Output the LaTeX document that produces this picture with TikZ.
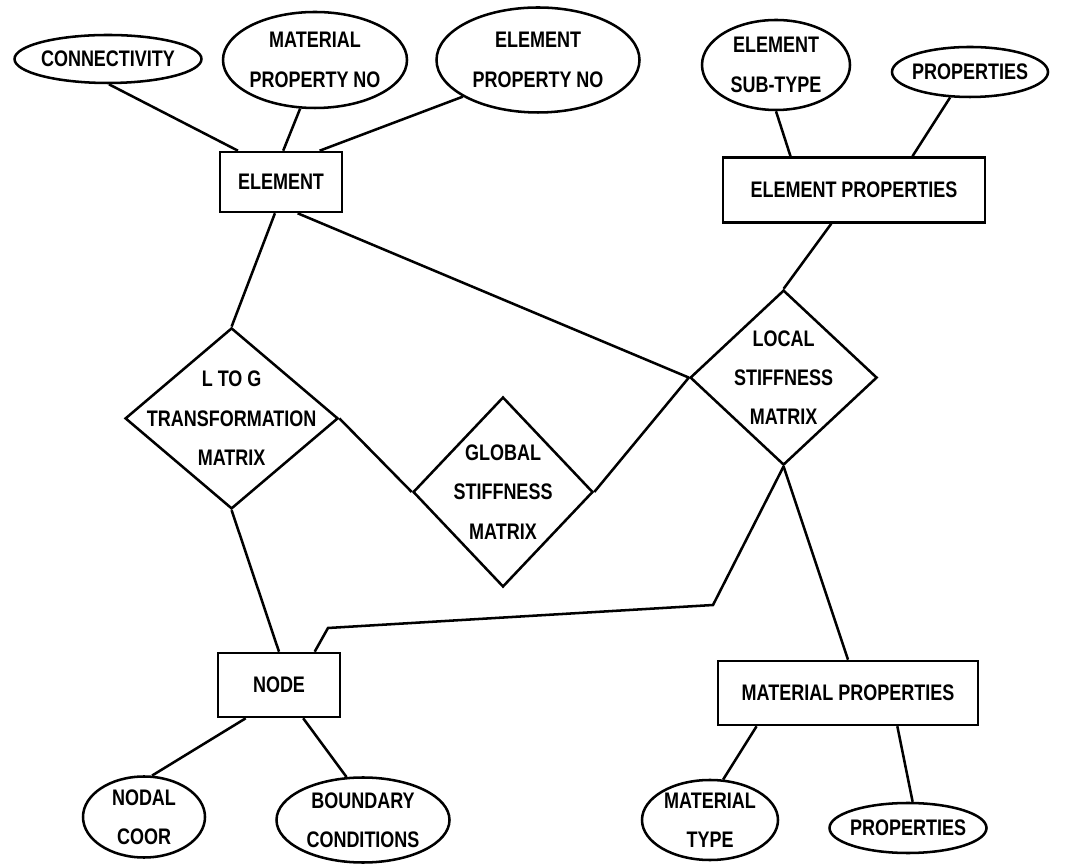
\documentclass[tikz,border=0pt]{standalone}
\usepackage{fontspec}
\setmainfont{Liberation Sans}[FakeStretch=0.8]
\usetikzlibrary{shapes.geometric}

\begin{document}
\begin{tikzpicture}[
	line width=1.8pt,
	every node/.style={font=\fontsize{16}{28}\selectfont\bfseries, align=center},
	entity/.style={draw, rectangle, inner sep=0pt},
	attrib/.style={draw, ellipse, inner sep=0pt},
	relation/.style={draw, diamond, inner sep=0pt},
	txt/.style={draw=none}
]
	\useasboundingbox (0,0) rectangle (26.675,21.65);

	% attributes at the top
	\node [attrib, minimum width=4.675cm, minimum height=1.2cm, label={[txt]center:CONNECTIVITY}] (conn) at (2.7,20.175) {};
	\node [attrib, minimum width=4.6cm, minimum height=2.4cm, label={[txt]center:MATERIAL\\PROPERTY NO}] (matno) at (7.875,20.15) {};
	\node [attrib, minimum width=5.075cm, minimum height=2.625cm, label={[txt]center:ELEMENT\\PROPERTY NO}] (elno) at (13.45,20.15) {};
	\node [attrib, minimum width=3.7cm, minimum height=2.25cm, label={[txt]center:ELEMENT\\SUB-TYPE}] (subtype) at (19.4,20.025) {};
	\node [attrib, minimum width=3.9cm, minimum height=1.25cm, label={[txt]center:PROPERTIES}] (propa) at (24.25,19.85) {};

	% entities
	\node [entity, minimum width=3.05cm, minimum height=1.5cm] (element) at (7.025,17.1) {ELEMENT};
	\node [entity, minimum width=6.55cm, minimum height=1.625cm] (elprop) at (21.35,16.9) {ELEMENT PROPERTIES};
	\node [entity, minimum width=3.05cm, minimum height=1.6cm] (nodebox) at (6.975,4.525) {NODE};
	\node [entity, minimum width=6.5cm, minimum height=1.6cm] (matprop) at (21.2,4.325) {MATERIAL PROPERTIES};

	% relations
	\node [relation, minimum width=5.325cm, minimum height=4.525cm, label={[txt]center:L TO G\\TRANSFORMATION\\MATRIX}] (ltog) at (5.79,11.19) {};
	\node [relation, minimum width=4.5cm, minimum height=4.75cm, label={[txt]center:GLOBAL\\STIFFNESS\\MATRIX}] (globstiff) at (12.575,9.35) {};
	\node [relation, minimum width=4.675cm, minimum height=4.375cm, label={[txt]center:LOCAL\\STIFFNESS\\MATRIX}] (locstiff) at (19.59,12.21) {};

	% attributes at the bottom
	\node [attrib, minimum width=3.05cm, minimum height=2.025cm, label={[txt]center:NODAL\\COOR}] (nodal) at (3.6,1.225) {};
	\node [attrib, minimum width=4.325cm, minimum height=2.125cm, label={[txt]center:BOUNDARY\\CONDITIONS}] (boundary) at (9.075,1.15) {};
	\node [attrib, minimum width=3.4cm, minimum height=2.0cm, label={[txt]center:MATERIAL\\TYPE}] (mattype) at (17.75,1.15) {};
	\node [attrib, minimum width=3.925cm, minimum height=1.25cm, label={[txt]center:PROPERTIES}] (propb) at (22.7,0.95) {};

	\coordinate (bendA) at (17.825,6.525);
	\coordinate (bendB) at (8.2,5.95);

	\draw (conn.272) -- (element.144);
	\draw (matno.253) -- (element.86);
	\draw (elno.206) -- (element.39);
	\draw (subtype.270) -- (elprop.152);
	\draw (propa.232) -- (elprop.30);

	\draw (element.259) -- (ltog.north);
	\draw (element.298) -- (locstiff.west);
	\draw (elprop.236) -- (locstiff.north);
	\draw (ltog.east) -- (globstiff.west);
	\draw (globstiff.east) -- (locstiff.west);
	\draw (ltog.south) -- (nodebox.north);
	\draw (locstiff.south) -- (bendA) -- (bendB) -- (nodebox.43);
	\draw (locstiff.south) -- (matprop.north);

	\draw (nodebox.225) -- (nodal.79);
	\draw (nodebox.306) -- (boundary.111);
	\draw (matprop.200) -- (mattype.72);
	\draw (matprop.326) -- (propb.80);
\end{tikzpicture}
\end{document}
